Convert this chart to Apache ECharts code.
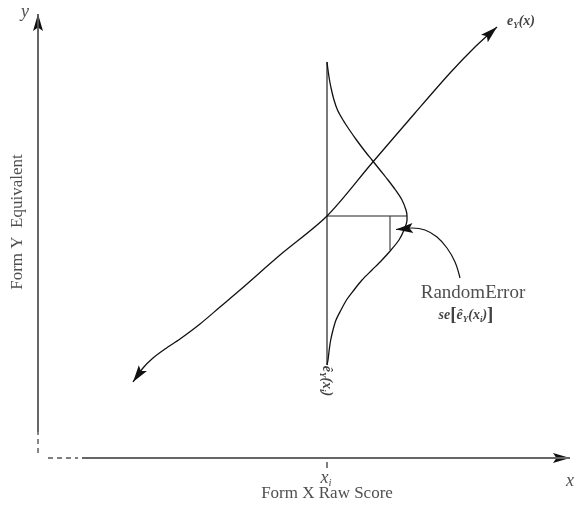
<!DOCTYPE html>
<html><head><meta charset="utf-8">
<script src="https://cdn.jsdelivr.net/npm/echarts@6/dist/echarts.min.js"></script>
<style>html,body{margin:0;padding:0;background:#fff}#c{width:577px;height:507px}</style>
</head><body><div id="c"></div>
<script>
// ---- diagram data (axis units) ----
const xi = 28.9;            // score x_i
const meanY = 24.4;         // expected equivalent at x_i
const bellPeakX = 36.9;     // peak of sampling distribution
const bellTop = 39.8, bellBottom = 9.5;
const axisLevel = 0.2;

// equating function e_Y(x)
const eyCurve = [[9.5,7.8],[10.5,9.2],[11.5,10.2],[12.7,11.1],[14.2,12.1],[16.2,13.6],[18.2,15.3],[20.2,17.0],[24.2,20.5],[28.9,24.4],[33.4,29.7],[37.7,34.7],[41.2,38.7],[43.7,41.3],[45.9,43.3]];
// sampling distribution of e_Y-hat(x_i), drawn sideways: [y, width from x_i]
const bellY     = [39.8,39.0,38.0,37.0,36.0,35.0,34.0,33.0,32.0,31.0,30.0,29.0,28.0,27.0,26.0,25.0,24.4,24.0,23.0,22.0,21.0,20.0,19.0,18.0,17.0,16.0,15.0,14.0,13.0,12.0,11.0,10.0,9.5];
const bellWidth = [0,   0.1, 0.25,0.45,0.7, 1.05,1.6, 2.25,2.95,3.7, 4.5, 5.3, 6.1, 6.85,7.5, 7.9, 8.0, 8.0, 7.7, 7.2, 6.4, 5.5, 4.5, 3.5, 2.7, 1.95,1.4, 0.9, 0.6, 0.37,0.22,0.1, 0];
// pointer from "RandomError" label
const errPointer = [[42.2,18.2],[41.7,19.8],[40.9,21.2],[39.9,22.3],[38.7,23.0],[37.4,23.2],[35.8,23.05]];
const errBarX = 35.2, errBarLow = 21.0;

const yAxisSolid = [[0,2.8],[0,44.6]];
const yAxisDash = [[0,0.7],[0,2.8]];
const xAxisSolid = [[4.4,axisLevel],[53.2,axisLevel]];
const xAxisDash = [[1.0,axisLevel],[4.0,axisLevel]];
const tickSeg = [[xi,-0.2],[xi,-0.8]];

const annotations = [
  {at:[-1.3,44.8], text:'{it|y}'},
  {at:[53.2,-2.1], text:'{it|x}'},
  {at:[28.8,-1.8], text:'{it|x}{its|i}'},
  {at:[28.9,-3.4], text:'{rm|Form X Raw Score}'},
  {at:[-2.0,23.8], text:'{rm|Form Y  Equivalent}', rotate:90},
  {at:[48.3,43.9], text:'{bi|e}{bis|Y}{bi|(x)}'},
  {at:[43.5,16.7], text:'{rmL|RandomError}'},
  {at:[42.8,14.5], text:'{bi|se}{br|[}{bi|ê}{bis|Y}{bi|(x}{bis|i}{bi|)}{br|]}'},
  {at:[28.9,7.9], text:'{bi|ê}{bis|Y}{bi|(x}{bis|i}{bi|)}', rotate:-90}
];

// ---- build ----
const serif = '"Liberation Serif","DejaVu Serif","Times New Roman",serif';
function seg(data, color, width, opts) {
  return Object.assign({type:'line', data:data, symbol:'none', silent:true, animation:false,
    lineStyle:{color:color, width:width}}, opts||{});
}
const bellCurve = bellY.map((y, i) => [xi + bellWidth[i], y]);
const arrows = [
  [eyCurve[1], eyCurve[0]],
  [eyCurve[eyCurve.length-2], eyCurve[eyCurve.length-1]],
  [yAxisSolid[0], yAxisSolid[1]],
  [xAxisSolid[0], xAxisSolid[1]],
  [errPointer[errPointer.length-2], errPointer[errPointer.length-1]]
].map(p => [p[0][0],p[0][1],p[1][0],p[1][1]]);

const series = [
  seg(yAxisSolid,'#555',1.8),
  seg(yAxisDash,'#555',1.4,{lineStyle:{color:'#555',width:1.4,type:[5,4]}}),
  seg(xAxisSolid,'#666',2),
  seg(xAxisDash,'#555',1.4,{lineStyle:{color:'#555',width:1.4,type:[5,4]}}),
  seg(tickSeg,'#555',1.5),
  seg([[xi,bellTop],[xi,bellBottom]],'#222',1.2),
  seg([[xi,meanY],[bellPeakX,meanY]],'#222',1.2),
  seg([[errBarX,meanY],[errBarX,errBarLow]],'#444',1.2),
  seg(bellCurve,'#111',1.3,{smooth:0.3}),
  seg(eyCurve,'#111',1.3,{smooth:0.3}),
  seg(errPointer,'#111',1.2,{smooth:0.4}),
  {
    type:'custom', silent:true, animation:false, data:arrows, encode:{x:[0,2], y:[1,3]},
    renderItem:function(params, api){
      const p1 = api.coord([api.value(0), api.value(1)]);
      const p2 = api.coord([api.value(2), api.value(3)]);
      let dx = p2[0]-p1[0], dy = p2[1]-p1[1];
      const len = Math.hypot(dx,dy); dx/=len; dy/=len;
      const L = 17, W = 5;
      const bx = p2[0]-dx*L, by = p2[1]-dy*L;
      const nx = p2[0]-dx*L*0.8, ny = p2[1]-dy*L*0.8;
      const qx = -dy, qy = dx;
      return {type:'polygon', shape:{points:[p2,[bx+qx*W,by+qy*W],[nx,ny],[bx-qx*W,by-qy*W]]},
        style:{fill:'#111'}};
    }
  },
  {
    type:'scatter', silent:true, animation:false, symbol:'circle', symbolSize:1,
    itemStyle:{color:'rgba(0,0,0,0)'},
    data: annotations.map(a => ({name:a.text, value:a.at, label:{rotate:a.rotate||0}})),
    label:{show:true, position:'inside', formatter:'{b}', color:'#222',
      rich:{
        it:{fontFamily:serif, fontStyle:'italic', fontSize:18, color:'#222'},
        its:{fontFamily:serif, fontStyle:'italic', fontSize:11, color:'#222', verticalAlign:'bottom', lineHeight:22},
        rm:{fontFamily:serif, fontSize:17, color:'#222'},
        rmL:{fontFamily:serif, fontSize:19, color:'#222'},
        bi:{fontFamily:serif, fontStyle:'italic', fontWeight:'bold', fontSize:14, color:'#111', lineHeight:19},
        bis:{fontFamily:serif, fontStyle:'italic', fontWeight:'bold', fontSize:9, color:'#111', verticalAlign:'bottom', lineHeight:19},
        br:{fontFamily:serif, fontWeight:'bold', fontSize:19, color:'#111', lineHeight:19}
      }}
  }
];

const chart = echarts.init(document.getElementById('c'), null, {renderer:'canvas'});
chart.setOption({
  animation:false,
  backgroundColor:'#fff',
  grid:{left:0,right:0,top:0,bottom:0},
  xAxis:{type:'value', min:-3.8, max:53.9, show:false},
  yAxis:{type:'value', min:-4.7, max:46, show:false},
  series:series
});
</script></body></html>
